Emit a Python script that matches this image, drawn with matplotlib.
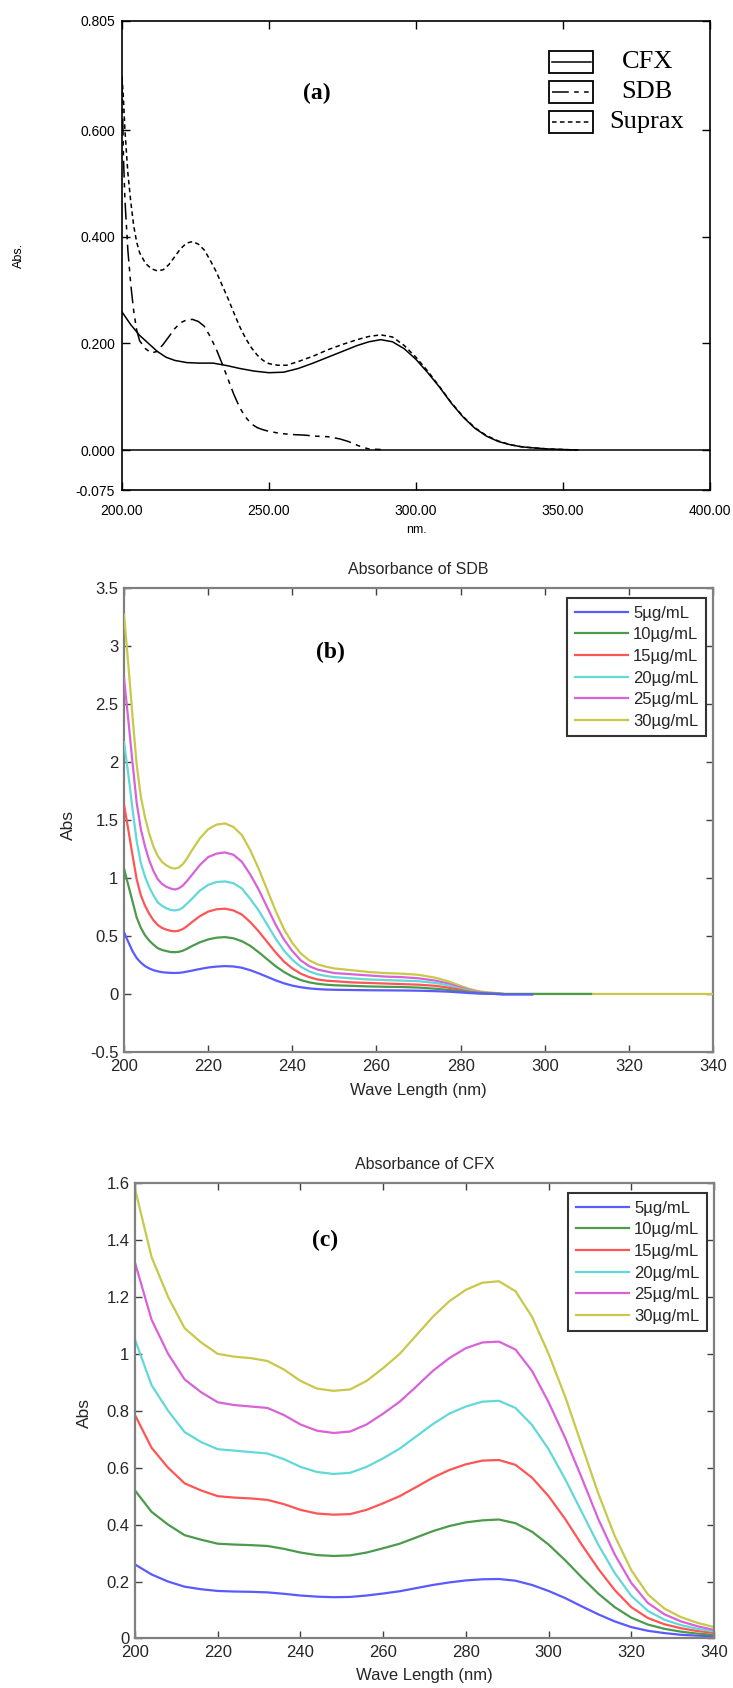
import matplotlib
matplotlib.use('Agg')
import matplotlib.pyplot as plt
from matplotlib.patches import Rectangle
from matplotlib.lines import Line2D
from matplotlib.ticker import FuncFormatter

plt.rcParams['font.family'] = ['Liberation Sans', 'DejaVu Sans']

# ---------- (a) overlay of CFX, SDB, Suprax ----------
cfx_x = [200, 203, 206, 209, 212, 215, 218, 222, 226, 231, 236, 240, 245, 250, 255, 260, 265,
         270, 275, 280, 284, 288, 292, 296, 300, 304, 308, 312, 316, 320, 324, 328, 332, 336,
         340, 345, 350, 355]
cfx_y = [0.259, 0.235, 0.215, 0.200, 0.185, 0.174, 0.168, 0.164, 0.163, 0.163, 0.158, 0.153,
         0.148, 0.145, 0.146, 0.153, 0.163, 0.174, 0.185, 0.196, 0.203, 0.207, 0.203, 0.190,
         0.170, 0.145, 0.118, 0.088, 0.062, 0.041, 0.026, 0.016, 0.010, 0.006, 0.004, 0.002,
         0.001, 0.0]

sdb_x = [200, 200.5, 201, 202, 203, 204, 205, 206, 208, 210, 212, 214, 216, 218, 220, 222, 224,
         226, 228, 230, 232, 234, 236, 238, 240, 242, 244, 246, 248, 250, 254, 258, 262, 266,
         270, 274, 277, 280, 282, 284, 288]
sdb_y = [0.70, 0.55, 0.47, 0.375, 0.31, 0.26, 0.225, 0.205, 0.19, 0.182, 0.185, 0.198, 0.213,
         0.228, 0.239, 0.244, 0.245, 0.241, 0.232, 0.213, 0.19, 0.163, 0.134, 0.105, 0.08,
         0.062, 0.049, 0.042, 0.038, 0.035, 0.031, 0.029, 0.028, 0.026, 0.025, 0.021, 0.016,
         0.009, 0.005, 0.002, 0.001]

sup_x = [200, 200.5, 201, 202, 203, 204, 205, 206, 208, 210, 212, 214, 216, 218, 220, 222, 224,
         226, 228, 230, 232, 234, 236, 238, 240, 242, 244, 246, 248, 250, 253, 256, 260, 265,
         270, 275, 280, 284, 288, 292, 296, 300, 304, 308, 312, 316, 320, 324, 328, 332, 336,
         340, 345, 350, 355]
sup_y = [0.70, 0.66, 0.60, 0.52, 0.465, 0.42, 0.39, 0.37, 0.35, 0.34, 0.336, 0.338, 0.348,
         0.363, 0.378, 0.388, 0.391, 0.386, 0.375, 0.356, 0.335, 0.31, 0.285, 0.258, 0.232,
         0.210, 0.192, 0.178, 0.168, 0.162, 0.159, 0.159, 0.166, 0.176, 0.188, 0.198, 0.207,
         0.213, 0.216, 0.212, 0.196, 0.174, 0.148, 0.119, 0.089, 0.063, 0.042, 0.027, 0.017,
         0.010, 0.006, 0.004, 0.002, 0.001, 0.0]

a_names = ['CFX', 'SDB', 'Suprax']
a_yticks = [-0.075, 0.0, 0.2, 0.4, 0.6, 0.805]
a_xticks = [200, 250, 300, 350, 400]

# ---------- (b) SDB concentrations ----------
conc_labels = ['5µg/mL', '10µg/mL', '15µg/mL', '20µg/mL', '25µg/mL', '30µg/mL']

sdb_wl = [200, 201, 202, 203, 204, 205, 206, 207, 208, 209, 210, 211, 212, 213, 214, 215, 216,
          218, 220, 222, 224, 226, 228, 230, 232, 234, 236, 238, 240, 242, 244, 246, 248, 250,
          254, 258, 262, 266, 270, 274, 277, 280, 282, 284, 286, 288]
sdb_5 = [0.53, 0.45, 0.37, 0.31, 0.27, 0.24, 0.22, 0.205, 0.195, 0.188, 0.184, 0.182, 0.181,
         0.182, 0.186, 0.193, 0.20, 0.215, 0.228, 0.236, 0.24, 0.237, 0.226, 0.205, 0.178, 0.148,
         0.118, 0.092, 0.072, 0.058, 0.048, 0.042, 0.038, 0.036, 0.034, 0.032, 0.031, 0.03,
         0.028, 0.024, 0.02, 0.013, 0.008, 0.004, 0.002, 0.0]
sdb_10 = [1.08, 0.94, 0.80, 0.66, 0.57, 0.505, 0.46, 0.425, 0.395, 0.38, 0.37, 0.362, 0.36,
          0.363, 0.373, 0.39, 0.41, 0.445, 0.47, 0.485, 0.49, 0.48, 0.455, 0.415, 0.36, 0.30,
          0.24, 0.19, 0.15, 0.12, 0.10, 0.088, 0.08, 0.075, 0.07, 0.065, 0.062, 0.06, 0.055,
          0.045, 0.035, 0.022, 0.014, 0.008, 0.005, 0.003]
sdb_15 = [1.63, 1.42, 1.20, 0.99, 0.85, 0.76, 0.69, 0.635, 0.595, 0.57, 0.555, 0.545, 0.54,
          0.545, 0.56, 0.585, 0.615, 0.67, 0.71, 0.73, 0.735, 0.72, 0.685, 0.62, 0.54, 0.45,
          0.36, 0.28, 0.22, 0.175, 0.145, 0.125, 0.115, 0.11, 0.10, 0.095, 0.09, 0.085, 0.08,
          0.07, 0.055, 0.035, 0.02, 0.012, 0.006, 0.003]
sdb_20 = [2.17, 1.90, 1.60, 1.32, 1.13, 1.01, 0.92, 0.85, 0.79, 0.76, 0.74, 0.725, 0.72, 0.725,
          0.745, 0.78, 0.815, 0.89, 0.94, 0.965, 0.97, 0.955, 0.91, 0.82, 0.72, 0.60, 0.48,
          0.375, 0.295, 0.235, 0.195, 0.17, 0.155, 0.145, 0.135, 0.125, 0.12, 0.115, 0.11,
          0.095, 0.075, 0.045, 0.03, 0.015, 0.008, 0.004]
sdb_25 = [2.72, 2.37, 2.00, 1.65, 1.42, 1.27, 1.15, 1.06, 0.99, 0.95, 0.925, 0.91, 0.90, 0.91,
          0.935, 0.975, 1.02, 1.11, 1.18, 1.21, 1.22, 1.20, 1.14, 1.03, 0.90, 0.75, 0.60, 0.47,
          0.37, 0.29, 0.24, 0.21, 0.195, 0.18, 0.17, 0.16, 0.15, 0.145, 0.135, 0.115, 0.09,
          0.055, 0.035, 0.02, 0.01, 0.005]
sdb_30 = [3.27, 2.85, 2.40, 1.98, 1.70, 1.52, 1.38, 1.27, 1.19, 1.14, 1.11, 1.09, 1.08, 1.09,
          1.12, 1.17, 1.23, 1.34, 1.42, 1.46, 1.47, 1.44, 1.37, 1.24, 1.08, 0.90, 0.72, 0.56,
          0.44, 0.35, 0.29, 0.255, 0.235, 0.22, 0.205, 0.19, 0.18, 0.175, 0.165, 0.14, 0.11,
          0.07, 0.045, 0.025, 0.015, 0.01]
# flat tails after 288 nm (different recorded end points)
sdb_tail_x = [[290, 297], [290, 311], [290], [290], [290], [290, 340]]
sdb_tail_y = [[-0.005, -0.005], [0.0, 0.0], [0.0], [0.0], [0.0], [0.0, 0.0]]

# ---------- (c) CFX concentrations ----------
cfx_wl = [200, 204, 208, 212, 216, 220, 224, 228, 232, 236, 240, 244, 248, 252, 256, 260, 264,
          268, 272, 276, 280, 284, 288, 292, 296, 300, 304, 308, 312, 316, 320, 324, 328, 332,
          336, 340]
cfx_5 = [0.26, 0.225, 0.20, 0.182, 0.173, 0.167, 0.165, 0.164, 0.162, 0.157, 0.151, 0.147,
         0.145, 0.146, 0.151, 0.158, 0.166, 0.177, 0.188, 0.197, 0.204, 0.208, 0.209, 0.203,
         0.188, 0.167, 0.142, 0.113, 0.085, 0.06, 0.04, 0.027, 0.019, 0.013, 0.01, 0.008]
cfx_10 = [0.52, 0.445, 0.40, 0.363, 0.347, 0.333, 0.33, 0.328, 0.325, 0.315, 0.302, 0.293,
          0.29, 0.292, 0.302, 0.317, 0.333, 0.355, 0.377, 0.395, 0.408, 0.415, 0.418, 0.405,
          0.375, 0.33, 0.275, 0.215, 0.158, 0.11, 0.073, 0.049, 0.034, 0.024, 0.017, 0.013]
cfx_15 = [0.785, 0.67, 0.60, 0.545, 0.52, 0.50, 0.495, 0.492, 0.487, 0.472, 0.452, 0.439,
          0.435, 0.437, 0.452, 0.475, 0.50, 0.532, 0.565, 0.592, 0.612, 0.625, 0.627, 0.61,
          0.565, 0.50, 0.42, 0.33, 0.245, 0.17, 0.11, 0.072, 0.05, 0.036, 0.026, 0.02]
cfx_20 = [1.05, 0.89, 0.80, 0.725, 0.69, 0.665, 0.66, 0.655, 0.65, 0.63, 0.603, 0.585, 0.578,
          0.582, 0.603, 0.633, 0.667, 0.71, 0.753, 0.79, 0.815, 0.832, 0.835, 0.81, 0.75,
          0.665, 0.56, 0.445, 0.33, 0.23, 0.15, 0.097, 0.066, 0.047, 0.034, 0.025]
cfx_25 = [1.32, 1.12, 1.00, 0.91, 0.865, 0.83, 0.82, 0.815, 0.81, 0.785, 0.752, 0.73, 0.722,
          0.727, 0.752, 0.79, 0.832, 0.885, 0.94, 0.985, 1.02, 1.04, 1.043, 1.015, 0.94, 0.83,
          0.705, 0.565, 0.42, 0.295, 0.195, 0.125, 0.085, 0.06, 0.043, 0.03]
cfx_30 = [1.58, 1.34, 1.20, 1.09, 1.04, 1.00, 0.99, 0.985, 0.975, 0.945, 0.905, 0.878, 0.870,
          0.875, 0.905, 0.95, 1.00, 1.065, 1.13, 1.185, 1.225, 1.25, 1.255, 1.22, 1.13, 1.00,
          0.85, 0.68, 0.51, 0.36, 0.24, 0.155, 0.105, 0.075, 0.055, 0.04]

colors = ['#5a5aff', '#4c9a4c', '#ff5555', '#62d8d8', '#d862d8', '#c8c84a']
g = '#262626'

fig = plt.figure(figsize=(7.33, 16.88), dpi=100)

# ================= panel (a) =================
ax = fig.add_axes([0.1664, 0.7097, 0.8022, 0.2780])
a_styles = ['-', (0, (11, 3.5, 3, 3.5, 3, 3.5)), (0, (3, 2.2))]
ax.axhline(0, color='black', lw=1.1)
ax.plot(cfx_x, cfx_y, color='black', lw=1.1, linestyle=a_styles[0])
ax.plot(sdb_x, sdb_y, color='black', lw=1.1, linestyle=a_styles[1])
ax.plot(sup_x, sup_y, color='black', lw=1.1, linestyle=a_styles[2])
ax.set_xlim(200, 400)
ax.set_ylim(-0.075, 0.805)
ax.set_xticks(a_xticks)
ax.set_yticks(a_yticks)
ax.xaxis.set_major_formatter(FuncFormatter(lambda v, p: f'{v:.2f}'))
ax.yaxis.set_major_formatter(FuncFormatter(lambda v, p: f'{v:.3f}'))
ax.tick_params(direction='in', length=6, width=1, top=True, right=True, labelsize=10)
ax.tick_params(axis='x', pad=10)
ax.tick_params(axis='y', pad=5)
for s in ax.spines.values():
    s.set_linewidth(1.2)
ax.set_xlabel('nm.', fontsize=9)
ax.xaxis.set_label_coords(0.5, -0.072)
ax.set_ylabel('Abs.', fontsize=9)
ax.yaxis.set_label_coords(-0.165, 0.5)
ax.text(0.331, 0.846, '(a)', transform=ax.transAxes, ha='center', va='center',
        fontsize=17, fontweight='bold', family='Liberation Serif')
# boxed legend
for i, name in enumerate(a_names):
    yc = 0.912 - i * 0.0639
    ax.add_patch(Rectangle((0.727, yc - 0.0235), 0.0748, 0.047, transform=ax.transAxes,
                           fill=False, ec='black', lw=1.3))
    ax.add_line(Line2D([0.732, 0.797], [yc, yc], transform=ax.transAxes, color='black',
                       lw=1.1, linestyle=a_styles[i]))
    ax.text(0.893, yc, name, transform=ax.transAxes, ha='center', va='center',
            fontsize=19, family='Liberation Serif')


def style_panel(ax):
    for s in ax.spines.values():
        s.set_color('#808080')
        s.set_linewidth(1.6)
    ax.tick_params(direction='in', length=5, width=1, color='#404040', top=True, right=True,
                   labelsize=12, labelcolor=g)
    ax.tick_params(axis='x', pad=5)
    ax.tick_params(axis='y', pad=4)
    ax.set_xlim(200, 340)
    ax.set_xticks(range(200, 341, 20))
    ax.yaxis.set_major_formatter(FuncFormatter(lambda v, p: f'{v:g}'))
    ax.set_xlabel('Wave Length (nm)', fontsize=12, color=g)


def panel_legend(ax):
    leg = ax.legend(loc='upper right', bbox_to_anchor=(0.988, 0.978), borderaxespad=0,
                    fontsize=12, handlelength=3.2, handletextpad=0.3, labelspacing=0.4,
                    borderpad=0.45, fancybox=False, framealpha=1, edgecolor='#333333')
    leg.get_frame().set_linewidth(1.5)
    for t in leg.get_texts():
        t.set_color(g)


# ================= panel (b) =================
ax = fig.add_axes([0.1692, 0.3768, 0.8035, 0.2749])
sdb_series = [sdb_5, sdb_10, sdb_15, sdb_20, sdb_25, sdb_30]
for i, ys in enumerate(sdb_series):
    ax.plot(sdb_wl + sdb_tail_x[i], ys + sdb_tail_y[i], color=colors[i], lw=1.6,
            label=conc_labels[i], zorder=10 - i)
style_panel(ax)
ax.set_ylim(-0.5, 3.5)
ax.set_yticks([-0.5, 0, 0.5, 1, 1.5, 2, 2.5, 3, 3.5])
ax.set_title('Absorbance of SDB', fontsize=11.5, color=g, pad=10)
ax.xaxis.set_label_coords(0.5, -0.067)
ax.set_ylabel('Abs', fontsize=12.5, color=g)
ax.yaxis.set_label_coords(-0.081, 0.49)
ax.text(0.351, 0.862, '(b)', transform=ax.transAxes, ha='center', va='center',
        fontsize=17, fontweight='bold', family='Liberation Serif')
panel_legend(ax)

# ================= panel (c) =================
ax = fig.add_axes([0.1842, 0.02933, 0.7899, 0.2698])
cfx_series = [cfx_5, cfx_10, cfx_15, cfx_20, cfx_25, cfx_30]
for i, ys in enumerate(cfx_series):
    ax.plot(cfx_wl, ys, color=colors[i], lw=1.6, label=conc_labels[i])
style_panel(ax)
ax.set_ylim(0, 1.6)
ax.set_yticks([0, 0.2, 0.4, 0.6, 0.8, 1, 1.2, 1.4, 1.6])
ax.set_title('Absorbance of CFX', fontsize=11.5, color=g, pad=10)
ax.xaxis.set_label_coords(0.5, -0.065)
ax.set_ylabel('Abs', fontsize=12.5, color=g)
ax.yaxis.set_label_coords(-0.074, 0.496)
ax.text(0.328, 0.875, '(c)', transform=ax.transAxes, ha='center', va='center',
        fontsize=17, fontweight='bold', family='Liberation Serif')
panel_legend(ax)

fig.savefig('out.png', dpi=100)
